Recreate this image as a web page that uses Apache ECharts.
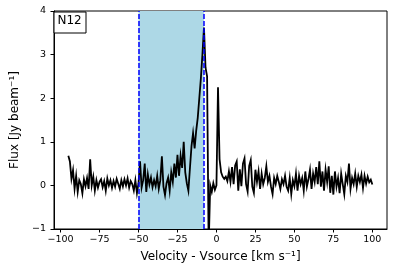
<!DOCTYPE html>
<html>
<head>
<meta charset="utf-8">
<script src="https://cdn.jsdelivr.net/npm/echarts@6/dist/echarts.min.js"></script>
<style>
html,body{margin:0;padding:0;background:#fff;}
#chart{width:394px;height:276px;}
</style>
</head>
<body>
<div id="chart"></div>
<script>
const velocity = [
-95,-94,-93,-92,-91,-90,-89,-88,-87,-86,
-85,-84,-83,-82,-81,-80,-79,-78,-77,-76,
-75,-74,-73,-72,-71,-70,-69,-68,-67,-66,
-65,-64,-63,-62,-61,-60,-59,-58,-57,-56,
-55,-54,-53,-52,-51,-50,-49,-48,-47,-46,
-45,-44,-43,-42,-41,-40,-39,-38,-37,-36,
-35,-34,-33,-32,-31,-30,-29,-28,-27,-26,
-25,-24,-23,-22,-21,-20,-19,-18,-17,-16,
-15,-14,-13,-12,-11,-10,-9,-8,-7,-6,
-5,-4,-3,-2,-1,0,1,2,3,4,
5,6,7,8,9,10,11,12,13,14,
15,16,17,18,19,20,21,22,23,24,
25,26,27,28,29,30,31,32,33,34,
35,36,37,38,39,40,41,42,43,44,
45,46,47,48,49,50,51,52,53,54,
55,56,57,58,59,60,61,62,63,64,
65,66,67,68,69,70,71,72,73,74,
75,76,77,78,79,80,81,82,83,84,
85,86,87,88,89,90,91,92,93,94,
95,96,97,98,99,100
];
const flux = [
0.68,0.55,0.15,0.35,-0.08,0.22,-0.15,0.12,0.03,-0.18,
0.14,-0.02,0.17,-0.08,0.6,0.0,0.2,-0.12,0.12,-0.05,
0.08,0.14,-0.04,0.1,-0.12,0.16,0.0,0.12,-0.06,0.1,
-0.03,0.15,0.04,-0.08,0.12,-0.02,0.14,0.0,0.16,-0.05,
0.1,0.03,-0.12,0.12,-0.18,0.05,0.55,-0.05,0.12,0.5,
-0.15,0.25,0.02,0.18,-0.04,0.12,-0.02,0.22,-0.08,0.12,
0.67,-0.03,-0.22,0.05,0.18,-0.12,0.3,0.08,0.5,0.18,
0.7,0.22,0.68,0.4,1.0,0.3,0.05,-0.12,0.4,0.9,
1.2,0.85,1.25,1.55,2.0,2.45,3.0,3.62,2.7,2.5,
-1.4,0.0,-0.15,0.05,-0.1,0.0,2.25,0.6,0.3,0.2,
0.15,0.2,0.1,0.32,0.08,0.42,0.03,0.46,0.55,-0.12,
0.37,-0.02,0.5,0.62,0.03,-0.14,0.45,0.58,-0.03,-0.17,
0.36,0.08,0.32,-0.08,0.27,0.03,0.17,0.44,0.08,0.22,
-0.03,-0.2,0.17,0.03,0.22,0.08,-0.08,0.14,0.03,0.22,
-0.03,-0.12,0.17,-0.2,0.12,-0.02,0.27,-0.12,0.22,0.03,
0.17,-0.12,0.32,-0.03,0.14,0.36,-0.08,0.27,0.08,0.42,
0.03,0.55,-0.03,0.32,-0.12,0.36,0.08,0.44,-0.17,0.22,
-0.21,0.32,-0.03,0.17,-0.18,0.27,0.03,-0.2,0.22,0.08,
0.5,-0.08,0.17,0.03,0.27,-0.03,0.22,0.08,0.25,-0.06,
0.22,0.04,0.2,0.07,0.13,0.02
];
const xTicks = [-100,-75,-50,-25,0,25,50,75,100];
const yTicks = [-1,0,1,2,3,4];
const windowRange = [-50,-8];
const panelLabel = 'N12';
const xTitle = 'Velocity - Vsource [km s⁻¹]';
const yTitle = 'Flux [Jy beam⁻¹]';

const fmt = v => (v < 0 ? '\u2212' + Math.abs(v) : String(v));
const points = velocity.map((v, i) => [v, flux[i]]);
const FONT = 'DejaVu Sans';

const chart = echarts.init(document.getElementById('chart'), null, {renderer: 'canvas'});
chart.setOption({
  animation: false,
  backgroundColor: '#fff',
  textStyle: {fontFamily: FONT, color: '#000'},
  grid: {left: 54, right: 7, top: 11, bottom: 47, show: true, borderColor: '#000', borderWidth: 1, backgroundColor: 'transparent'},
  xAxis: {
    type: 'value', min: -104.2, max: 109.4,
    name: xTitle, nameLocation: 'middle', nameGap: 22,
    nameTextStyle: {fontFamily: FONT, fontSize: 12, color: '#000'},
    axisLine: {show: true, onZero: false, lineStyle: {color: '#000', width: 1}},
    axisTick: {show: true, length: 3.5, lineStyle: {color: '#000'}, customValues: xTicks},
    axisLabel: {fontFamily: FONT, fontSize: 9.5, color: '#000', margin: 6, formatter: fmt, customValues: xTicks},
    splitLine: {show: false}
  },
  yAxis: {
    type: 'value', min: yTicks[0], max: yTicks[yTicks.length - 1], interval: 1,
    name: yTitle, nameLocation: 'middle', nameGap: 33, nameRotate: 90,
    nameTextStyle: {fontFamily: FONT, fontSize: 12, color: '#000'},
    axisLine: {show: true, onZero: false, lineStyle: {color: '#000', width: 1}},
    axisTick: {show: true, length: 3.5, lineStyle: {color: '#000'}},
    axisLabel: {fontFamily: FONT, fontSize: 9.5, color: '#000', margin: 8, formatter: fmt},
    splitLine: {show: false}
  },
  series: [
    {
      type: 'line', data: [], z: 1, silent: true,
      markArea: {silent: true, itemStyle: {color: '#add8e6', opacity: 1},
        data: [[{xAxis: windowRange[0]}, {xAxis: windowRange[1]}]]}
    },
    {
      type: 'line', data: points, z: 2, symbol: 'none', clip: true, smooth: false,
      lineStyle: {color: '#000', width: 1.8, join: 'miter'}
    },
    {
      type: 'line', data: [], z: 3, silent: true,
      markLine: {silent: true, symbol: 'none', label: {show: false},
        lineStyle: {color: '#0000ff', type: [5, 2], width: 1.5},
        data: [{xAxis: windowRange[0]}, {xAxis: windowRange[1]}]}
    }
  ],
  graphic: [
    {type: 'rect', left: 53.5, top: 11.5, z: 10,
      shape: {width: 32, height: 21}, style: {fill: '#fff', stroke: '#000', lineWidth: 1}},
    {type: 'text', left: 57.5, top: 15, z: 11,
      style: {text: panelLabel, font: '12px "DejaVu Sans"', fill: '#000'}}
  ]
});
</script>
</body>
</html>
